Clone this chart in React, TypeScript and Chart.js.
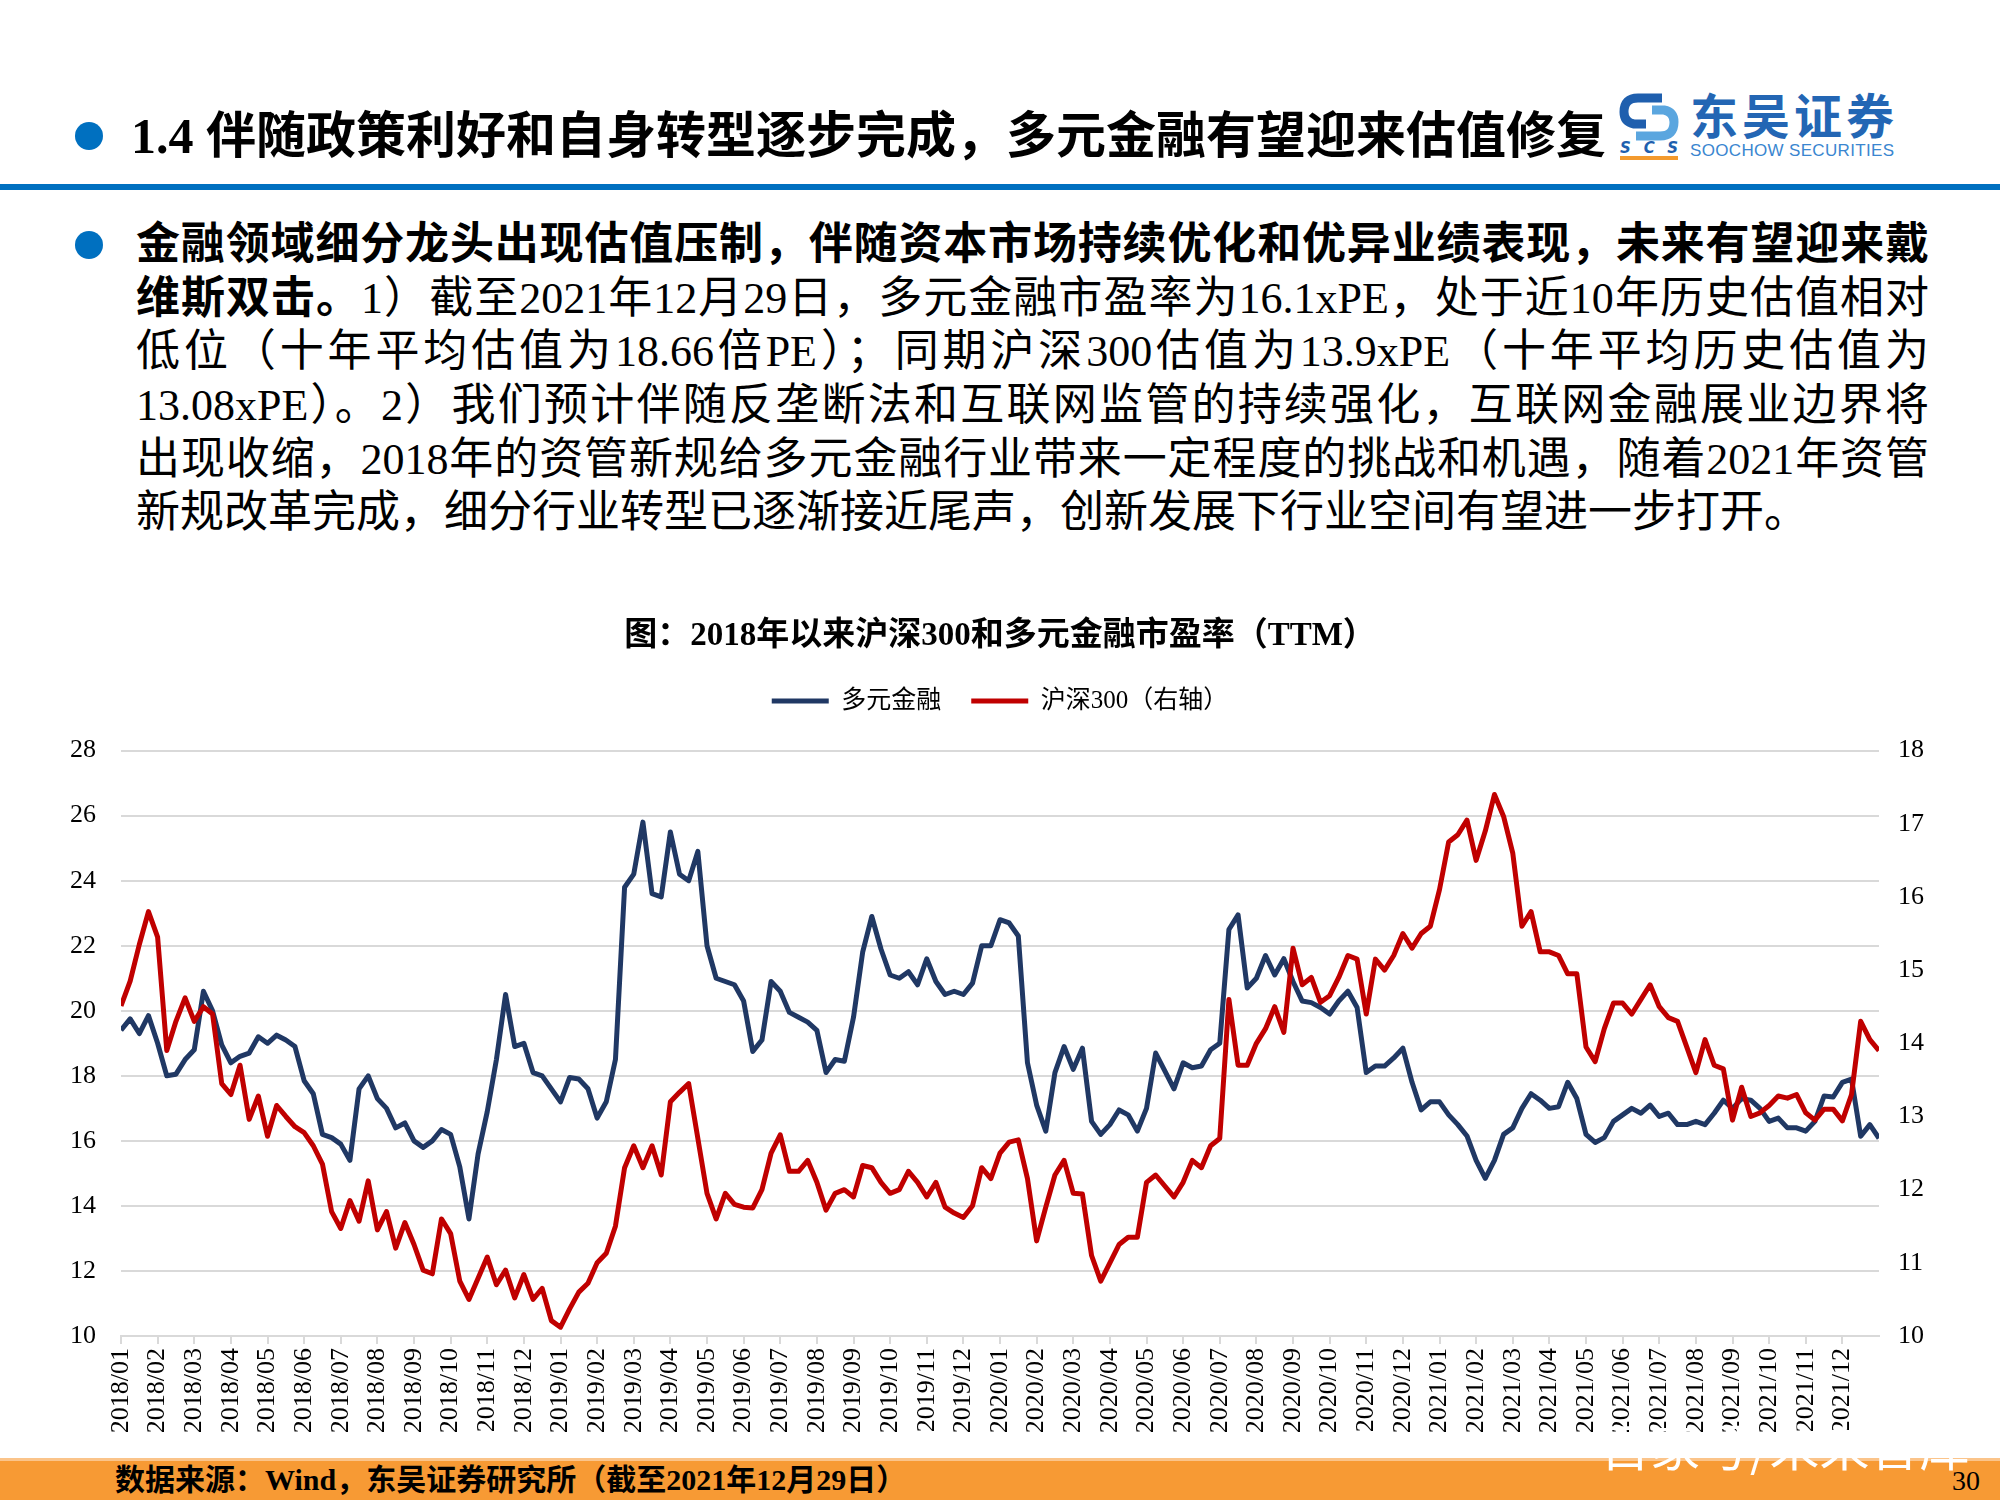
import React, { useEffect, useRef } from 'react';
import { Chart, registerables } from 'chart.js';

Chart.register(...registerables);

// ---------- data ----------
const years = [2018, 2019, 2020, 2021];
const months = ['01', '02', '03', '04', '05', '06', '07', '08', '09', '10', '11', '12'];
const monthLabels: string[] = years.flatMap((y) => months.map((m) => `${y}/${m}`));
const samplesPerMonth = 4; // weekly samples, 2018/01 .. 2021/12 end

// 多元金融 PE (left axis)
const duoyuanPE = [
  19.4, 19.75, 19.3, 19.85,
  19.0, 18.0, 18.05, 18.5,
  18.8, 20.6, 20.0, 18.95,
  18.4, 18.6, 18.7, 19.2,
  19.0, 19.25, 19.1, 18.9,
  17.85, 17.45, 16.2, 16.1,
  15.9, 15.4, 17.6, 18.0,
  17.3, 17.0, 16.4, 16.55,
  16.0, 15.8, 16.0, 16.35,
  16.2, 15.2, 13.6, 15.6,
  16.9, 18.5, 20.5, 18.9,
  19.0, 18.1, 18.0, 17.6,
  17.2, 17.95, 17.9, 17.6,
  16.7, 17.2, 18.5, 23.8,
  24.2, 25.8, 23.6, 23.5,
  25.5, 24.2, 24.0, 24.9,
  22.0, 21.0, 20.9, 20.8,
  20.3, 18.75, 19.1, 20.9,
  20.6, 19.95, 19.8, 19.65,
  19.4, 18.1, 18.5, 18.45,
  19.8, 21.8, 22.9, 21.9,
  21.1, 21.0, 21.2, 20.8,
  21.6, 20.9, 20.5, 20.6,
  20.5, 20.85, 22.0, 22.0,
  22.8, 22.7, 22.3, 18.4,
  17.1, 16.3, 18.1, 18.9,
  18.2, 18.85, 16.6, 16.2,
  16.5, 16.95, 16.8, 16.3,
  17.0, 18.7, 18.15, 17.6,
  18.4, 18.25, 18.3, 18.8,
  19.0, 22.5, 22.95, 20.7,
  21.0, 21.7, 21.1, 21.6,
  20.9, 20.3, 20.25, 20.1,
  19.9, 20.3, 20.6, 20.1,
  18.1, 18.3, 18.3, 18.55,
  18.85, 17.8, 16.95, 17.2,
  17.2, 16.8, 16.5, 16.15,
  15.4, 14.85, 15.4, 16.2,
  16.4, 17.0, 17.45, 17.25,
  17.0, 17.05, 17.8, 17.3,
  16.2, 15.95, 16.1, 16.6,
  16.8, 17.0, 16.85, 17.1,
  16.75, 16.85, 16.5, 16.5,
  16.6, 16.5, 16.85, 17.25,
  17.0, 17.3, 17.25, 17.0,
  16.6, 16.7, 16.4, 16.4,
  16.3, 16.6, 17.38, 17.35,
  17.8, 17.9, 16.14, 16.5,
  16.08,
];

// 沪深300 PE (right axis)
const hs300PE = [
  14.51, 14.85, 15.35, 15.8,
  15.45, 13.9, 14.3, 14.62,
  14.3, 14.5, 14.4, 13.45,
  13.3, 13.7, 12.96, 13.28,
  12.73, 13.15, 13.0, 12.86,
  12.78, 12.6, 12.35, 11.7,
  11.47, 11.85, 11.57, 12.12,
  11.45, 11.7, 11.2, 11.55,
  11.25, 10.9, 10.85, 11.6,
  11.4, 10.75, 10.5, 10.79,
  11.08, 10.7, 10.9, 10.52,
  10.84, 10.5, 10.65, 10.21,
  10.12, 10.37, 10.6, 10.72,
  11.0, 11.13, 11.5, 12.3,
  12.6, 12.3, 12.6, 12.2,
  13.2, 13.33, 13.45, 12.7,
  11.95, 11.6, 11.95, 11.8,
  11.76, 11.75, 12.0, 12.5,
  12.75, 12.25, 12.25, 12.4,
  12.1, 11.72, 11.95, 12.0,
  11.9, 12.33, 12.3, 12.1,
  11.95, 12.0, 12.25, 12.1,
  11.9, 12.1, 11.76, 11.68,
  11.62, 11.78, 12.3, 12.15,
  12.5, 12.65, 12.68, 12.15,
  11.3, 11.76, 12.2, 12.4,
  11.95, 11.94, 11.1, 10.75,
  11.0, 11.25, 11.35, 11.35,
  12.1, 12.2, 12.05, 11.9,
  12.1, 12.4, 12.3, 12.6,
  12.7, 14.6, 13.7, 13.7,
  14.0, 14.2, 14.5, 14.15,
  15.3, 14.8, 14.9, 14.56,
  14.65, 14.9, 15.2, 15.15,
  14.4, 15.15, 15.0, 15.2,
  15.5, 15.3, 15.5, 15.6,
  16.1, 16.75, 16.85, 17.05,
  16.5, 16.9, 17.4, 17.1,
  16.6, 15.6, 15.8, 15.25,
  15.25, 15.2, 14.95, 14.95,
  13.95, 13.75, 14.2, 14.55,
  14.55, 14.4, 14.6, 14.8,
  14.5, 14.35, 14.3, 13.95,
  13.6, 14.05, 13.7, 13.65,
  12.95, 13.4, 13.0, 13.05,
  13.15, 13.28, 13.25, 13.3,
  13.05, 12.95, 13.1, 13.1,
  12.94, 13.3, 14.3, 14.05,
  13.9,
];

const leftAxis = { min: 10, max: 28, step: 2 };
const rightAxis = { min: 10, max: 18, step: 1 };

const seriesNames = ['多元金融', '沪深300（右轴）'];
const chartTitle = '图：2018年以来沪深300和多元金融市盈率（TTM）';

// ---------- styles ----------
const BLUE_LINE = '#203864';
const RED_LINE = '#C00000';
const GRID = '#d9d9d9';
const BRAND = '#0070C0';
const FONT = "'Liberation Serif', 'Times New Roman', 'Noto Sans CJK SC', serif";

function PEChart() {
  const ref = useRef<HTMLCanvasElement | null>(null);
  useEffect(() => {
    if (!ref.current) return;
    const toPoints = (arr: number[]) => arr.map((v, i) => ({ x: i / samplesPerMonth, y: v }));
    const chart = new Chart(ref.current, {
      type: 'line',
      data: {
        datasets: [
          {
            label: seriesNames[0],
            data: toPoints(duoyuanPE),
            borderColor: BLUE_LINE,
            backgroundColor: BLUE_LINE,
            borderWidth: 5,
            pointRadius: 0,
            tension: 0,
            borderJoinStyle: 'round',
            yAxisID: 'y',
            order: 2,
          },
          {
            label: seriesNames[1],
            data: toPoints(hs300PE),
            borderColor: RED_LINE,
            backgroundColor: RED_LINE,
            borderWidth: 5,
            pointRadius: 0,
            tension: 0,
            borderJoinStyle: 'round',
            yAxisID: 'y1',
            order: 1,
          },
        ],
      },
      options: {
        animation: false,
        responsive: false,
        devicePixelRatio: 1,
        layout: { padding: 0 },
        plugins: {
          title: {
            display: true,
            text: chartTitle,
            color: '#000',
            font: { family: FONT, size: 33, weight: 'bold' },
            padding: { top: 14, bottom: 2 },
          },
          subtitle: {
            display: true,
            text: '',
            weight: 500,
            font: { size: 8, lineHeight: 1 },
            padding: { top: 0, bottom: 19 },
          } as any,
          legend: {
            display: true,
            position: 'top',
            labels: {
              boxWidth: 57,
              boxHeight: 5,
              padding: 30,
              color: '#000',
              font: { family: FONT, size: 25 },
              sort: (a: any, b: any) => a.datasetIndex - b.datasetIndex,
              generateLabels: (c: any) =>
                Chart.defaults.plugins.legend.labels
                  .generateLabels(c)
                  .map((l: any) => ({ ...l, lineWidth: 0 })),
            },
          },
          tooltip: { enabled: false },
        },
        scales: {
          x: {
            type: 'linear',
            min: 0,
            max: monthLabels.length,
            afterFit: (s: any) => {
              s.height = 107;
            },
            ticks: {
              stepSize: 1,
              autoSkip: false,
              maxRotation: 90,
              minRotation: 90,
              padding: 4,
              color: '#000',
              font: { family: FONT, size: 26 },
              callback: (v: any) =>
                Number.isInteger(v) && v < monthLabels.length ? monthLabels[v] : null,
            },
            grid: { drawOnChartArea: false, drawTicks: true, tickLength: 8, color: GRID, lineWidth: 2 },
            border: { display: true, color: GRID, width: 2 },
          },
          y: {
            position: 'left',
            min: leftAxis.min,
            max: leftAxis.max,
            afterFit: (s: any) => {
              s.width = 121;
            },
            ticks: { stepSize: leftAxis.step, padding: 25, color: '#000', font: { family: FONT, size: 26 } },
            grid: { color: GRID, lineWidth: 2, drawTicks: false },
            border: { display: false },
          },
          y1: {
            position: 'right',
            min: rightAxis.min,
            max: rightAxis.max,
            afterFit: (s: any) => {
              s.width = 121;
            },
            ticks: { stepSize: rightAxis.step, padding: 19, color: '#000', font: { family: FONT, size: 26 } },
            grid: { display: false, drawTicks: false },
            border: { display: false },
          },
        },
      } as any,
    });
    return () => chart.destroy();
  }, []);
  return (
    <canvas
      ref={ref}
      width={2000}
      height={840}
      style={{ position: 'absolute', left: 0, top: 603, width: 2000, height: 840 }}
    />
  );
}

const bodyLines: { bold?: string; text: string }[] = [
  { bold: '金融领域细分龙头出现估值压制，伴随资本市场持续优化和优异业绩表现，未来有望迎来戴', text: '' },
  { bold: '维斯双击。', text: '1）截至2021年12月29日，多元金融市盈率为16.1xPE，处于近10年历史估值相对' },
  { text: '低位（十年平均估值为18.66倍PE）；同期沪深300估值为13.9xPE（十年平均历史估值为' },
  { text: '13.08xPE）。2）我们预计伴随反垄断法和互联网监管的持续强化，互联网金融展业边界将' },
  { text: '出现收缩，2018年的资管新规给多元金融行业带来一定程度的挑战和机遇，随着2021年资管' },
  { text: '新规改革完成，细分行业转型已逐渐接近尾声，创新发展下行业空间有望进一步打开。' },
];

function Logo() {
  return (
    <svg width={290} height={70} style={{ position: 'absolute', left: 1616, top: 92 }}>
      <rect x={4} y={4} width={58} height={42} fill="#ffffff" />
      <path d="M46 6 L22 6 Q8 6 8 20 Q8 30 18 32 L30 32" stroke="#1f5fae" strokeWidth={9} fill="none" />
      <path d="M20 44 L44 44 Q58 44 58 30 Q58 20 48 18 L36 18" stroke="#5ba6df" strokeWidth={9} fill="none" />
      <text x={4} y={61} fontFamily="'DejaVu Sans', sans-serif" fontWeight="bold" fontStyle="italic" fontSize={15} fill="#1f5fae" textLength={58}>SCS</text>
      <rect x={4} y={64} width={58} height={4} fill="#F39A2E" />
      <text x={74} y={42} fontFamily="'Noto Sans CJK SC'" fontWeight="bold" fontSize={48} fill="#2366b4" textLength={204}>东吴证券</text>
      <text x={74} y={64} fontFamily="'Liberation Sans', Arial, sans-serif" fontSize={17} fill="#3a86d0" textLength={204}>SOOCHOW SECURITIES</text>
    </svg>
  );
}

export default function App() {
  return (
    <div
      style={{
        position: 'absolute',
        left: 0,
        top: 0,
        width: 2000,
        height: 1500,
        background: '#fff',
        overflow: 'hidden',
        fontFamily: FONT,
        color: '#000',
      }}
    >
      {/* header */}
      <div style={{ position: 'absolute', left: 75, top: 122, width: 28, height: 28, borderRadius: '50%', background: BRAND }} />
      <div
        style={{
          position: 'absolute',
          left: 131,
          top: 106,
          fontSize: 50,
          lineHeight: '60px',
          fontWeight: 700,
          whiteSpace: 'nowrap',
        }}
      >
        1.4 伴随政策利好和自身转型逐步完成，多元金融有望迎来估值修复
      </div>
      <Logo />
      <div style={{ position: 'absolute', left: 0, top: 184, width: 2000, height: 6, background: BRAND }} />

      {/* body text */}
      <div style={{ position: 'absolute', left: 75, top: 231, width: 28, height: 28, borderRadius: '50%', background: BRAND }} />
      <div style={{ position: 'absolute', left: 136, top: 218, width: 1793, fontSize: 44, lineHeight: '53.7px' }}>
        {bodyLines.map((l, i) => (
          <div
            key={i}
            style={{
              textAlign: 'justify',
              textAlignLast: i === bodyLines.length - 1 ? 'left' : 'justify',
              height: '53.7px',
            }}
          >
            {l.bold ? <b>{l.bold}</b> : null}
            {l.text}
          </div>
        ))}
      </div>

      <PEChart />

      {/* footer */}
      <div style={{ position: 'absolute', left: 0, top: 1460, width: 2000, height: 40, background: '#F79A34' }} />
      <div style={{ position: 'absolute', left: 0, top: 1458, width: 2000, height: 3, background: '#FBC48A' }} />
      <div
        style={{
          position: 'absolute',
          left: 115,
          top: 1460,
          fontSize: 30,
          lineHeight: '40px',
          fontWeight: 700,
          whiteSpace: 'nowrap',
        }}
      >
        数据来源：Wind，东吴证券研究所（截至2021年12月29日）
      </div>
      <div
        style={{
          position: 'absolute',
          right: 20,
          top: 1462,
          fontSize: 28,
          lineHeight: '38px',
          whiteSpace: 'nowrap',
        }}
      >
        30
      </div>
      <div
        style={{
          position: 'absolute',
          left: 1600,
          top: 1414,
          fontSize: 50,
          lineHeight: '60px',
          color: '#fff',
          fontFamily: "'Noto Sans CJK SC'",
          whiteSpace: 'nowrap',
        }}
      >
        百家号/未来智库
      </div>
    </div>
  );
}
